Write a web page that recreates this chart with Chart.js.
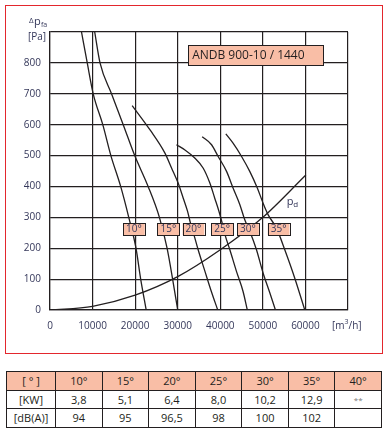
<!DOCTYPE html>
<html>
<head>
<meta charset="utf-8">
<script src="https://cdn.jsdelivr.net/npm/chart.js"></script>
<style>
  body { margin: 0; width: 388px; height: 432px; background: #fff; position: relative; overflow: hidden; font-family: "Open Sans", sans-serif; }
  #frame { position: absolute; left: 5px; top: 5px; width: 378px; height: 349px; box-sizing: border-box; border: 1.5px solid #e3272d; }
  #wrap { position: absolute; left: 0; top: 0; width: 388px; height: 360px; }
  table { position: absolute; left: 6px; top: 371px; width: 376px; border-collapse: collapse; table-layout: fixed; color: #231f20; font-size: 11px; }
  td { border: 1px solid #231f20; height: 17.5px; padding: 0; text-align: center; }
  tr.head td { background: #f9bea6; }
  td.stars { font-size: 8px; color: #777; }
</style>
</head>
<body>
<div id="frame"></div>
<div id="wrap"><canvas id="fanChart" width="388" height="360"></canvas></div>
<table id="specs"></table>
<script>
// fan curves ANDB 900-10 / 1440, flow [m3/h] vs pressure [Pa]
const angles = ['10°', '15°', '20°', '25°', '30°', '35°'];

const flow10 = [7400, 8750, 10150, 12400, 14300, 16600, 18500, 20200, 21300, 22600];
const pres10 = [900, 800, 700, 600, 500, 400, 300, 200, 100, 0];

const flow15 = [10500, 11750, 14450, 17200, 19900, 23050, 25700, 27500, 28800, 30000];
const pres15 = [900, 800, 700, 600, 500, 400, 300, 200, 100, 0];

const flow20 = [19300, 23500, 27000, 28550, 30100, 31300, 32300, 33000, 33800, 34800, 36400, 37900, 39400];
const pres20 = [662, 583, 508, 460, 411, 362, 320, 281, 244, 195, 125, 60, 0];

const flow25 = [29700, 31700, 34000, 36000, 37550, 38700, 39700, 40450, 41100, 42250, 43800, 45350, 46350];
const pres25 = [535, 518, 492, 459, 411, 362, 319, 281, 244, 195, 125, 60, 0];

const flow30 = [35750, 37950, 39500, 41500, 43000, 44600, 45750, 46950, 48500, 50050, 51650, 52950];
const pres30 = [561, 535, 497, 448, 395, 341, 292, 254, 195, 120, 55, 0];

const flow35 = [41300, 43000, 45000, 46950, 48700, 50050, 51250, 53200, 55150, 57500, 59850];
const pres35 = [570, 540, 497, 448, 395, 346, 308, 265, 195, 103, 0];

// dynamic pressure pd
const flowPd = [0, 10000, 20000, 30000, 40000, 50000, 60100];
const presPd = [0, 12, 48, 108, 195, 300, 437];

// axis ticks
const xTicks = [0, 10000, 20000, 30000, 40000, 50000, 60000, 70000];
const xTickLabels = ['0', '10000', '20000', '30000', '40000', '50000', '60000', ''];
const yTicks = [0, 100, 200, 300, 400, 500, 600, 700, 800, 900];
const yTickLabels = ['0', '100', '200', '300', '400', '500', '600', '700', '800', ''];

// table below the chart
const tableHead = ['[ ° ]', '10°', '15°', '20°', '25°', '30°', '35°', '40°'];
const powerKW = ['[KW]', '3,8', '5,1', '6,4', '8,0', '10,2', '12,9', '**'];
const noiseDB = ['[dB(A)]', '94', '95', '96,5', '98', '100', '102', ''];

// where the angle tags sit (data units)
const tagFlow = [19700, 27800, 33700, 40450, 46500, 53700];
const tagPres = 262;

const ink = '#231f20';
const textInk = '#34375a';
const salmon = '#f9bea6';
const font = '"Open Sans", sans-serif';

function pts(xs, ys) {
    return xs.map((v, i) => ({ x: v, y: ys[i] }));
}

const curves = [
    pts(flow10, pres10), pts(flow15, pres15), pts(flow20, pres20),
    pts(flow25, pres25), pts(flow30, pres30), pts(flow35, pres35)
];

const datasets = curves.map((c, i) => ({
    label: angles[i],
    data: c,
    borderColor: ink,
    borderWidth: 1.3,
    pointRadius: 0,
    cubicInterpolationMode: 'monotone'
}));
datasets.push({
    label: 'pd',
    data: pts(flowPd, presPd),
    borderColor: ink,
    borderWidth: 1.3,
    pointRadius: 0,
    cubicInterpolationMode: 'monotone'
});

function tagBox(ctx, x, y, w, h) {
    ctx.fillStyle = salmon;
    ctx.fillRect(x, y, w, h);
    ctx.strokeStyle = ink;
    ctx.lineWidth = 1;
    ctx.strokeRect(Math.round(x) + 0.5, Math.round(y) + 0.5, Math.round(w), Math.round(h));
}

const notes = {
    id: 'notes',
    afterDatasetsDraw(chart) {
        const ctx = chart.ctx;
        const xs = chart.scales.x, ys = chart.scales.y;
        ctx.save();
        ctx.textBaseline = 'middle';

        // angle tags
        ctx.font = '10px ' + font;
        angles.forEach((a, i) => {
            const cx = xs.getPixelForValue(tagFlow[i]);
            const cy = ys.getPixelForValue(tagPres);
            const w = ctx.measureText(a).width + 6;
            tagBox(ctx, cx - w / 2, cy - 6, w, 12);
            ctx.fillStyle = textInk;
            ctx.textAlign = 'center';
            ctx.fillText(a, cx, cy + 0.5);
        });

        // model box
        const bx = xs.getPixelForValue(32450), by = ys.getPixelForValue(857);
        tagBox(ctx, bx, by, 135, 20);
        ctx.font = '12px ' + font;
        ctx.fillStyle = ink;
        ctx.textAlign = 'left';
        ctx.fillText('ANDB 900-10 / 1440', bx + 4, by + 10.5);

        // pd label
        const px = xs.getPixelForValue(55600), py = ys.getPixelForValue(350);
        ctx.fillStyle = textInk;
        ctx.font = '11px ' + font;
        ctx.fillText('p', px, py);
        ctx.font = '8px ' + font;
        ctx.fillText('d', px + 6.5, py + 3);

        // axis titles
        ctx.font = '8px ' + font;
        ctx.fillText('Δ', 29, 21);
        ctx.font = '11px ' + font;
        ctx.fillText('p', 34, 22);
        ctx.font = '7px ' + font;
        ctx.fillText('fa', 41, 25);
        ctx.font = '10px ' + font;
        ctx.textAlign = 'right';
        ctx.fillText('[Pa]', 46, 37);
        ctx.textAlign = 'left';
        ctx.fillText('[m', 332, 326);
        const mw = ctx.measureText('[m').width;
        ctx.font = '7px ' + font;
        ctx.fillText('3', 332 + mw, 322);
        ctx.font = '10px ' + font;
        ctx.fillText('/h]', 332 + mw + 4, 326);
        ctx.restore();
    }
};

new Chart(document.getElementById('fanChart'), {
    type: 'line',
    data: { datasets: datasets },
    options: {
        responsive: false,
        animation: false,
        layout: { padding: { left: 0, top: 32, right: 40, bottom: 0 } },
        plugins: { legend: { display: false }, tooltip: { enabled: false } },
        scales: {
            x: {
                type: 'linear',
                min: 0,
                max: 70000,
                afterBuildTicks: (s) => { s.ticks = xTicks.map(v => ({ value: v })); },
                afterFit: (s) => { s.height = 50; },
                grid: { color: ink, lineWidth: 1.2, drawTicks: false },
                border: { color: ink, width: 1.2 },
                ticks: {
                    padding: 10,
                    maxRotation: 0,
                    autoSkip: false,
                    color: textInk,
                    font: { family: font, size: 10 },
                    callback: (v, i) => xTickLabels[i]
                }
            },
            y: {
                type: 'linear',
                min: 0,
                max: 900,
                afterBuildTicks: (s) => { s.ticks = yTicks.map(v => ({ value: v })); },
                afterFit: (s) => { s.width = 50; },
                grid: { color: ink, lineWidth: 1.2, drawTicks: false },
                border: { color: ink, width: 1.2 },
                ticks: {
                    padding: 9,
                    autoSkip: false,
                    color: textInk,
                    font: { family: font, size: 10 },
                    callback: (v, i) => yTickLabels[i]
                }
            }
        }
    },
    plugins: [notes]
});

// spec table
const table = document.getElementById('specs');
[tableHead, powerKW, noiseDB].forEach((row, r) => {
    const tr = document.createElement('tr');
    if (r === 0) tr.className = 'head';
    row.forEach((cell, c) => {
        const td = document.createElement('td');
        td.textContent = cell;
        if (c === 0) td.style.width = '48px';
        if (cell === '**') td.className = 'stars';
        tr.appendChild(td);
    });
    table.appendChild(tr);
});
</script>
</body>
</html>
